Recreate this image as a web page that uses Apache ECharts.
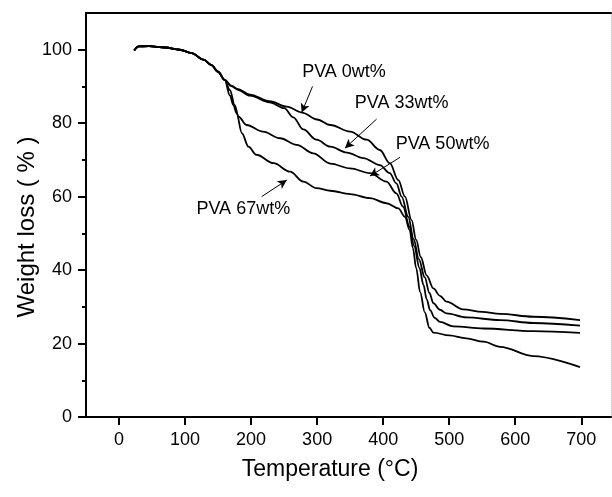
<!DOCTYPE html>
<html>
<head>
<meta charset="utf-8">
<script src="https://cdn.jsdelivr.net/npm/echarts@6/dist/echarts.min.js"></script>
<style>html,body{margin:0;padding:0;background:#fff}#c{width:612px;height:497px}</style>
</head>
<body>
<div id="c"></div>
<script>
// ---- data (Temperature °C, Weight %) ----
const commonStart = [[23,99.8],[30,100.9],[45,101],[70,100.6],[92,100],[110,99.1],[128,97.3],[140,95.8],[150,94],[160,91.8]];
const pva0 = commonStart.concat([[170,90.2],[180,89.3],[198,87.8],[228,86],[254,84.5],[277,82.9],[300,81],[320,79.5],[350,77.7],[375,75.5],[395,72.7],[410,69.1],[423,64.5],[433,60],[443,53.6],[450,48.2],[457,43.5],[466,38.5],[476,35],[486,33],[496,31.4],[521,29.3],[550,28.6],[577,28.1],[627,27.3],[698,26.4]]);
const pva33 = commonStart.concat([[170,90.1],[180,89.1],[198,87.5],[228,85.7],[250,84.1],[264,81.6],[279,78.3],[299,75.5],[320,73.6],[345,72],[370,70.5],[395,68.6],[410,66.4],[420,63.6],[428,60],[438,54.5],[446,48.5],[454,43],[463,38],[470,33.8],[476,31],[486,29.2],[496,28.2],[526,27.1],[577,26.4],[627,25.6],[698,24.9]]);
const pva50 = commonStart.concat([[168,89],[175,85],[181,81.8],[193,79.5],[218,77.7],[244,75.9],[269,74.1],[294,71.8],[320,69],[350,67.7],[380,66.4],[405,64.1],[420,60.9],[430,57.3],[440,51.8],[447,46.5],[455,40.5],[461,36],[466,32],[471,29.1],[478,27],[486,25.9],[506,24.7],[552,24.1],[627,23.4],[698,22.9]]);
const pva67 = commonStart.concat([[168,87.5],[173,85],[178,82.7],[186,77.3],[196,73.6],[208,71.4],[234,69.1],[259,66.8],[279,64.1],[299,62.3],[320,61.6],[350,60.7],[380,59.6],[405,58.2],[423,56.8],[433,54.5],[440,51],[445,46],[450,40.5],[456,34],[463,28.5],[470,24.3],[476,23],[500,22.2],[526,21.4],[552,20.5],[577,19.1],[627,16.6],[698,13.6]]);
const seriesNames = ['PVA 0wt%','PVA 33wt%','PVA 50wt%','PVA 67wt%'];
const xTickValues = [0,100,200,300,400,500,600,700];
const yTickValues = [0,20,40,60,80,100];
const yMinorTickValues = [10,30,50,70,90];
// annotation anchors (data coordinates)
const labelAnchor = [[340.7,94],[428,85.5],[489.9,74.4],[188.2,56.6]];
const arrowFrom = [[293,90],[390,81.1],[425.5,70.7],[216,60]];
const arrowTo = [[276.6,82.9],[342.2,73.2],[380,65.6],[254,64.5]];

const FONT = "'Liberation Sans', Arial, sans-serif";
const chart = echarts.init(document.getElementById('c'), null, {renderer:'canvas'});
const curves = [pva0, pva33, pva50, pva67];
const series = curves.map((d,i)=>({
  type:'line', name:seriesNames[i], data:d, showSymbol:false, symbol:'none',
  smooth:0.35, smoothMonotone:'x',
  lineStyle:{color:'#000', width:1.8}, z:3, silent:true
}));
series.push({
  type:'scatter', name:'labels', symbolSize:0, silent:true,
  data: labelAnchor.map((p,i)=>({value:p, name:seriesNames[i]})),
  label:{show:true, position:'inside', formatter:p=>p.name, color:'#000', fontSize:18, fontFamily:FONT,
         textBorderWidth:0, textBorderColor:'transparent', opacity:1},
  markLine:{
    silent:true, symbol:['none','arrow'], symbolSize:[7,9],
    label:{show:false},
    lineStyle:{color:'#000', width:1, type:'solid'},
    data: arrowFrom.map((p,i)=>[{coord:p},{coord:arrowTo[i]}])
  }
});

chart.setOption({
  animation:false,
  backgroundColor:'#fff',
  grid:{left:86, right:1, top:13, bottom:80},
  xAxis:[{
    type:'value', min:-50, max:745, position:'bottom',
    axisLine:{show:true, onZero:false, lineStyle:{color:'#000', width:2}},
    axisTick:{show:true, customValues:xTickValues, length:8, inside:false, lineStyle:{color:'#000', width:2}},
    axisLabel:{show:true, customValues:xTickValues, margin:14, color:'#000', fontSize:18, fontFamily:FONT},
    splitLine:{show:false}
  },{
    type:'value', min:-50, max:745, position:'top',
    axisLine:{show:true, onZero:false, lineStyle:{color:'#000', width:2}},
    axisTick:{show:false}, axisLabel:{show:false}, splitLine:{show:false}
  }],
  yAxis:[{
    type:'value', min:0, max:110, position:'left',
    axisLine:{show:true, onZero:false, lineStyle:{color:'#000', width:2}},
    axisTick:{show:true, customValues:yTickValues, length:8, lineStyle:{color:'#000', width:2}},
    axisLabel:{show:true, customValues:yTickValues, margin:14, color:'#000', fontSize:18, fontFamily:FONT},
    splitLine:{show:false}
  },{
    type:'value', min:0, max:110, position:'left',
    axisLine:{show:false, onZero:false},
    axisTick:{show:true, customValues:yMinorTickValues, length:4, lineStyle:{color:'#000', width:2}},
    axisLabel:{show:false}, splitLine:{show:false}
  },{
    type:'value', min:0, max:110, position:'right',
    axisLine:{show:true, onZero:false, lineStyle:{color:'#ccc', width:1, type:'dotted'}},
    axisTick:{show:false}, axisLabel:{show:false}, splitLine:{show:false}
  }],
  graphic:[
    {type:'text', x:330, y:470, style:{text:'Temperature (°C)', font:'23px '+FONT, fill:'#000', textAlign:'center', textVerticalAlign:'middle'}},
    {type:'text', x:27, y:227, rotation:Math.PI/2, style:{text:'Weight loss ( % )', font:'24px '+FONT, fill:'#000', textAlign:'center', textVerticalAlign:'middle'}}
  ],
  series: series
});
</script>
</body>
</html>
